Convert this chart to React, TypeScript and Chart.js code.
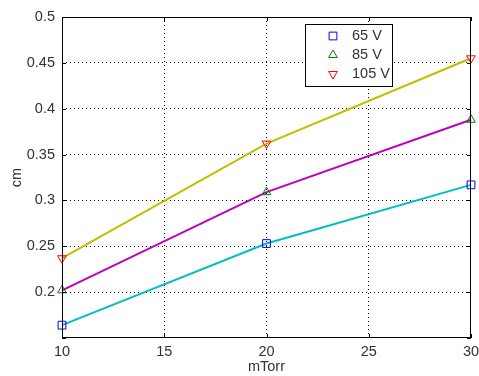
import React, { useEffect, useRef } from "react";
import { Chart, registerables } from "chart.js";

Chart.register(...registerables);

const pressure = [10, 20, 30];
const v65 = [0.164, 0.253, 0.317];
const v85 = [0.202, 0.309, 0.388];
const v105 = [0.237, 0.362, 0.455];
const seriesLabels = ["65 V", "85 V", "105 V"];
const xTicks = [10, 15, 20, 25, 30];
const yTicks = [0.15, 0.2, 0.25, 0.3, 0.35, 0.4, 0.45, 0.5];

const FONT = "'Liberation Sans', Arial, sans-serif";
const FS = 14.5;
const TXT = "#333";

function marker(ctx: CanvasRenderingContext2D, style: string, rot: number, r: number, x: number, y: number) {
  ctx.beginPath();
  if (style === "rect") {
    const s = Math.SQRT1_2 * r;
    ctx.rect(x - s, y - s, 2 * s, 2 * s);
  } else {
    const dir = rot === 180 ? -1 : 1;
    const w = (r * Math.sqrt(3)) / 2;
    ctx.moveTo(x, y - dir * r);
    ctx.lineTo(x - w, y + (dir * r) / 2);
    ctx.lineTo(x + w, y + (dir * r) / 2);
    ctx.closePath();
  }
  ctx.stroke();
}

const boxPlugin = {
  id: "matlabBox",
  afterDatasetsDraw(chart: any) {
    const { ctx, chartArea: a, scales } = chart;
    ctx.save();
    ctx.strokeStyle = "#000";
    ctx.lineWidth = 1;
    ctx.setLineDash([]);
    ctx.strokeRect(a.left + 0.5, a.top + 0.5, a.right - a.left - 1, a.bottom - a.top - 1);
    const tl = 4;
    ctx.beginPath();
    xTicks.forEach((v) => {
      const x = Math.round(scales.x.getPixelForValue(v)) + 0.5;
      ctx.moveTo(x, a.bottom);
      ctx.lineTo(x, a.bottom - tl);
      ctx.moveTo(x, a.top);
      ctx.lineTo(x, a.top + tl);
    });
    yTicks.forEach((v) => {
      const y = Math.round(scales.y.getPixelForValue(v)) + 0.5;
      ctx.moveTo(a.left, y);
      ctx.lineTo(a.left + tl, y);
      ctx.moveTo(a.right, y);
      ctx.lineTo(a.right - tl, y);
    });
    ctx.stroke();
    ctx.restore();
  },
  afterDraw(chart: any) {
    const { ctx } = chart;
    const bx = 305, by = 24, bw = 87, bh = 62;
    ctx.save();
    ctx.fillStyle = "#fff";
    ctx.fillRect(bx, by, bw, bh);
    ctx.strokeStyle = "#000";
    ctx.lineWidth = 1;
    ctx.strokeRect(bx + 0.5, by + 0.5, bw, bh);
    const rows = [36, 55, 74];
    chart.data.datasets.forEach((ds: any, i: number) => {
      const y = rows[i];
      ctx.strokeStyle = ds.pointBorderColor;
      ctx.lineWidth = 1;
      marker(ctx, ds.pointStyle, ds.pointRotation || 0, ds.pointRadius, 333, y);
      ctx.fillStyle = TXT;
      ctx.font = `${FS}px ${FONT}`;
      ctx.textBaseline = "middle";
      ctx.textAlign = "left";
      ctx.fillText(ds.label, 352, y);
    });
    ctx.restore();
  },
};

export default function App() {
  const ref = useRef<HTMLCanvasElement>(null);
  useEffect(() => {
    if (!ref.current) return;
    const mk = (label: string, data: number[], line: string, pt: string, style: string, rot: number, r: number) => ({
      label,
      data: pressure.map((x, i) => ({ x, y: data[i] })),
      borderColor: line,
      borderWidth: 2,
      pointStyle: style,
      pointRotation: rot,
      pointRadius: r,
      pointBorderColor: pt,
      pointBackgroundColor: "rgba(0,0,0,0)",
      pointBorderWidth: 1,
      tension: 0,
      clip: false as any,
    });
    const chart = new Chart(ref.current, {
      type: "line",
      data: {
        datasets: [
          mk(seriesLabels[0], v65, "#00bfbf", "#0000ff", "rect", 0, 5.5),
          mk(seriesLabels[1], v85, "#bf00bf", "#008000", "triangle", 0, 5),
          mk(seriesLabels[2], v105, "#bfbf00", "#ff0000", "triangle", 180, 5),
        ],
      },
      options: {
        animation: false,
        responsive: false,
        maintainAspectRatio: false,
        layout: { padding: { left: 0, top: 17, right: 8, bottom: 0 } },
        plugins: { legend: { display: false }, tooltip: { enabled: false } },
        scales: {
          x: {
            type: "linear",
            min: 10,
            max: 30,
            afterFit: (s: any) => {
              s.height = 38;
              s.paddingLeft = 0;
              s.paddingRight = 0;
            },
            afterBuildTicks: (s: any) => {
              s.ticks = xTicks.map((v) => ({ value: v }));
            },
            ticks: { color: TXT, font: { family: FONT, size: FS }, padding: 5, maxRotation: 0 },
            grid: {
              drawTicks: false,
              color: (c: any) => (c.index === 0 || c.index === xTicks.length - 1 ? "rgba(0,0,0,0)" : "#000"),
              lineWidth: 1,
            },
            border: { display: false, dash: [1, 3] },
            title: { display: true, text: "mTorr", color: TXT, font: { family: FONT, size: FS }, padding: { top: 0, bottom: 0 } },
          },
          y: {
            type: "linear",
            min: 0.15,
            max: 0.5,
            afterFit: (s: any) => {
              s.width = 62;
              s.paddingTop = 0;
              s.paddingBottom = 0;
            },
            afterBuildTicks: (s: any) => {
              s.ticks = yTicks.map((v) => ({ value: v }));
            },
            ticks: {
              color: TXT,
              font: { family: FONT, size: FS },
              padding: 7,
              callback: (v: any) => (Math.abs(v - 0.15) < 1e-6 ? "" : String(parseFloat(Number(v).toFixed(2)))),
            },
            grid: {
              drawTicks: false,
              color: (c: any) => (c.index === 0 || c.index === yTicks.length - 1 ? "rgba(0,0,0,0)" : "#000"),
              lineWidth: 1,
            },
            border: { display: false, dash: [1, 3] },
            title: { display: true, text: "cm", color: TXT, font: { family: FONT, size: FS }, padding: { top: 8, bottom: 0 } },
          },
        },
      },
      plugins: [boxPlugin],
    });
    return () => chart.destroy();
  }, []);
  return (
    <div style={{ position: "fixed", left: 0, top: 0, width: 479, height: 376, background: "#fff" }}>
      <canvas ref={ref} width={479} height={376} style={{ display: "block" }} />
    </div>
  );
}
